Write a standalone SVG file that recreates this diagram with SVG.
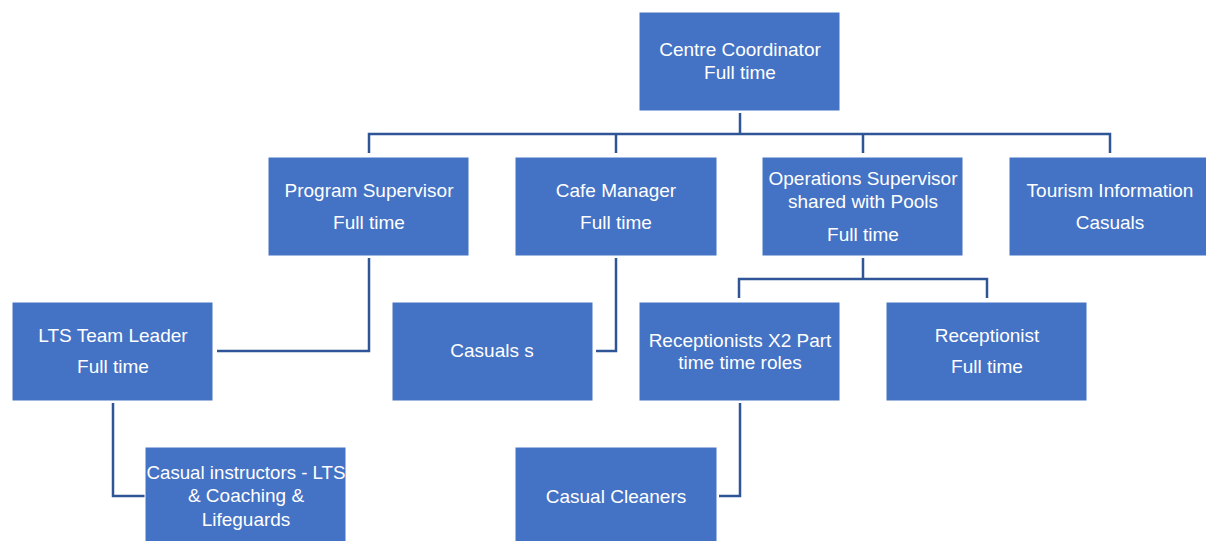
<svg xmlns="http://www.w3.org/2000/svg" width="1206" height="541" viewBox="0 0 1206 541">
<style>
.box{fill:#4472C4;stroke:#ffffff;stroke-width:1}
.t{font-family:"Liberation Sans",Arial,sans-serif;font-size:19px;fill:#ffffff;text-anchor:middle}
.c{fill:none;stroke:#2F5597;stroke-width:2.5}
</style>
<rect width="1206" height="541" fill="#ffffff"/>
<g id="connectors">
<path class="c" d="M740,113 V134 M369,153 V134 H1110 V153 M616,134 V153 M863,134 V153"/>
<path class="c" d="M369,258 V351 H217"/>
<path class="c" d="M616,258 V351 H596"/>
<path class="c" d="M863,258 V279 H739 V298 M863,279 H987 V298"/>
<path class="c" d="M113,403 V496 H145"/>
<path class="c" d="M740,403 V496 H719"/>
</g>
<g id="centre-coordinator"><rect class="box" x="639" y="12" width="201" height="99"/><text class="t" x="740" y="56">Centre Coordinator</text><text class="t" x="740" y="79">Full time</text></g>
<g id="program-supervisor"><rect class="box" x="268" y="157" width="201" height="99"/><text class="t" x="369" y="197">Program Supervisor</text><text class="t" x="369" y="229">Full time</text></g>
<g id="cafe-manager"><rect class="box" x="515" y="157" width="202" height="99"/><text class="t" x="616" y="197">Cafe Manager</text><text class="t" x="616" y="229">Full time</text></g>
<g id="operations-supervisor"><rect class="box" x="762" y="157" width="201" height="99"/><text class="t" x="863" y="185">Operations Supervisor</text><text class="t" x="863" y="208">shared with Pools</text><text class="t" x="863" y="241">Full time</text></g>
<g id="tourism-information"><rect class="box" x="1009" y="157" width="201" height="99"/><text class="t" x="1110" y="197">Tourism Information</text><text class="t" x="1110" y="229">Casuals</text></g>
<g id="lts-team-leader"><rect class="box" x="12" y="302" width="201" height="99"/><text class="t" x="113" y="342">LTS Team Leader</text><text class="t" x="113" y="373">Full time</text></g>
<g id="casuals-s"><rect class="box" x="392" y="302" width="201" height="99"/><text class="t" x="492" y="357">Casuals s</text></g>
<g id="receptionists-x2"><rect class="box" x="639" y="302" width="201" height="99"/><text class="t" x="740" y="347">Receptionists X2 Part</text><text class="t" x="740" y="369">time time roles</text></g>
<g id="receptionist"><rect class="box" x="886" y="302" width="201" height="99"/><text class="t" x="987" y="342">Receptionist</text><text class="t" x="987" y="373">Full time</text></g>
<g id="casual-instructors"><rect class="box" x="145" y="447" width="201" height="99"/><text class="t" x="246" y="479" textLength="199" lengthAdjust="spacingAndGlyphs">Casual instructors - LTS</text><text class="t" x="246" y="502">&amp; Coaching &amp;</text><text class="t" x="246" y="526">Lifeguards</text></g>
<g id="casual-cleaners"><rect class="box" x="515" y="447" width="202" height="99"/><text class="t" x="616" y="503">Casual Cleaners</text></g>
</svg>
